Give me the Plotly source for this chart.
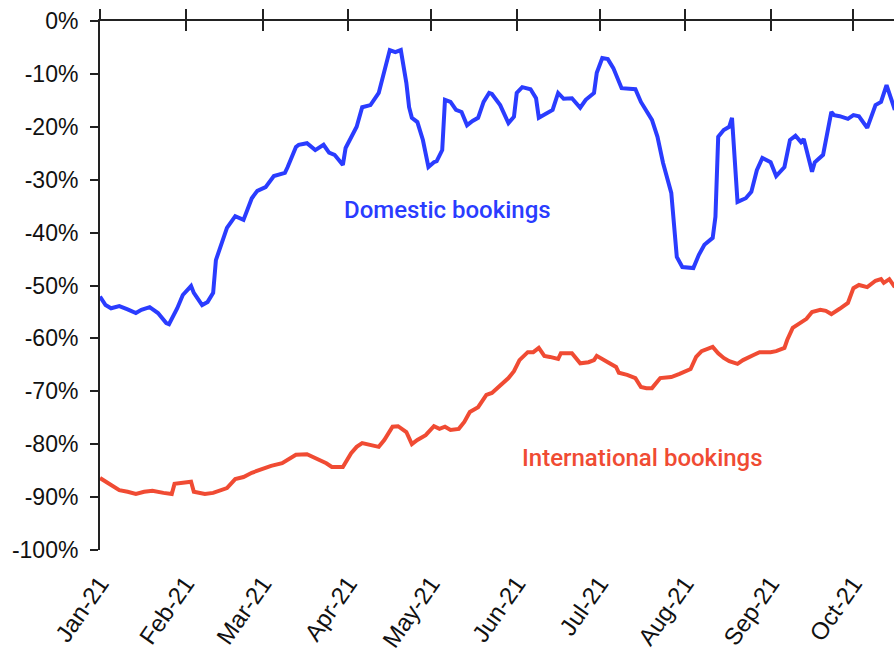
import pandas as pd
import plotly.graph_objects as go

# ---- data ----
month_starts = ["2021-01-01", "2021-02-01", "2021-03-01", "2021-04-01", "2021-05-01",
                "2021-06-01", "2021-07-01", "2021-08-01", "2021-09-01", "2021-10-01"]
month_labels = ["Jan-21", "Feb-21", "Mar-21", "Apr-21", "May-21",
                "Jun-21", "Jul-21", "Aug-21", "Sep-21", "Oct-21"]
y_ticks = [0, -10, -20, -30, -40, -50, -60, -70, -80, -90, -100]
y_labels = ["0%", "-10%", "-20%", "-30%", "-40%", "-50%", "-60%", "-70%", "-80%", "-90%", "-100%"]

# day offsets from 1 Jan 2021 and % change, domestic bookings
dom_day = [0, 2, 4, 7, 10, 13, 15, 18, 21, 24, 25, 28, 30, 33, 34, 37, 39, 41, 42, 45,
           46, 49, 52, 55, 57, 60, 63, 67, 68, 71, 72, 75, 78, 81, 83, 85, 88, 89, 91, 93,
           95, 98, 101, 103, 105, 107, 109, 111, 112, 113, 115, 117, 118, 119, 121, 122, 124, 125, 127, 129,
           131, 133, 135, 137, 139, 141, 142, 145, 148, 150, 151, 153, 156, 158, 159, 162, 164, 166, 168, 171,
           174, 176, 179, 180, 182, 184, 186, 189, 192, 194, 196, 200, 202, 204, 207, 208, 209, 211, 215, 217,
           219, 222, 223, 224, 226, 228, 229, 231, 234, 236, 238, 240, 243, 245, 248, 250, 252, 254, 255, 258,
           259, 262, 265, 266, 268, 271, 273, 275, 276, 278, 281, 283, 285, 288]
dom_val = [-52.1, -53.7, -54.3, -53.9, -54.5, -55.2, -54.6, -54.1, -55.2, -57.1, -57.3, -54.3, -51.8, -50.1, -51.4, -53.7, -53.1, -51.4, -45.2, -40.6,
           -39.1, -36.9, -37.6, -33.5, -32.1, -31.4, -29.3, -28.7, -27.6, -23.8, -23.4, -23.1, -24.4, -23.4, -24.9, -25.3, -27.2, -24.0, -21.9, -20.0,
           -16.3, -15.9, -13.6, -9.3, -5.5, -5.9, -5.5, -11.7, -16.3, -18.3, -19.1, -22.5, -25.0, -27.6, -26.7, -26.5, -24.4, -14.9, -15.3, -16.8,
           -17.2, -19.7, -18.9, -18.3, -15.3, -13.6, -13.8, -15.9, -19.3, -18.1, -13.6, -12.5, -12.9, -14.6, -18.3, -17.4, -16.8, -13.6, -14.7, -14.6,
           -16.4, -14.9, -13.6, -9.8, -7.0, -7.2, -8.9, -12.7, -12.9, -12.9, -15.3, -18.7, -21.9, -26.8, -32.5, -38.2, -44.6, -46.5, -46.7, -44.2,
           -42.3, -41.0, -37.0, -21.9, -20.6, -20.0, -18.3, -34.2, -33.5, -32.3, -28.2, -25.9, -26.7, -29.3, -27.6, -22.5, -21.7, -22.9, -22.3, -28.5,
           -26.7, -25.3, -17.2, -17.8, -18.0, -18.5, -17.8, -18.0, -18.7, -20.2, -15.9, -15.3, -12.1, -16.8]

# day offsets from 1 Jan 2021 and % change, international bookings
int_day = [0, 4, 7, 10, 13, 16, 19, 23, 26, 27, 30, 33, 34, 38, 41, 44, 46, 49, 52, 55,
           59, 62, 66, 69, 71, 75, 78, 82, 84, 88, 91, 93, 95, 99, 101, 103, 106, 108, 111, 113,
           115, 118, 121, 123, 125, 127, 130, 132, 134, 137, 140, 142, 145, 148, 150, 152, 155, 157, 159, 161,
           163, 166, 167, 171, 174, 177, 179, 180, 184, 187, 188, 191, 194, 196, 198, 200, 203, 207, 210, 214,
           216, 218, 222, 224, 226, 228, 231, 233, 237, 239, 243, 245, 248, 249, 251, 254, 256, 258, 261, 263,
           265, 268, 271, 273, 275, 278, 281, 283, 284, 286, 288]
int_val = [-86.4, -87.7, -88.7, -89.0, -89.4, -89.0, -88.8, -89.2, -89.4, -87.5, -87.3, -87.1, -89.0, -89.4, -89.2, -88.7, -88.3, -86.6, -86.2, -85.4,
           -84.7, -84.1, -83.6, -82.6, -82.0, -81.9, -82.6, -83.6, -84.3, -84.3, -81.7, -80.5, -79.8, -80.2, -80.5, -79.2, -76.7, -76.6, -77.7, -80.0,
           -79.2, -78.3, -76.6, -77.1, -76.7, -77.3, -77.1, -75.8, -73.9, -73.0, -70.7, -70.3, -68.8, -67.5, -66.2, -64.1, -62.6, -62.6, -61.8, -63.3,
           -63.5, -63.9, -62.8, -62.8, -64.7, -64.5, -64.1, -63.3, -64.5, -65.4, -66.5, -66.9, -67.5, -69.2, -69.4, -69.4, -67.5, -67.3, -66.7, -65.8,
           -63.5, -62.4, -61.6, -62.8, -63.7, -64.3, -64.8, -64.1, -63.1, -62.6, -62.6, -62.4, -61.8, -60.3, -58.0, -57.1, -56.3, -55.0, -54.6, -54.8,
           -55.4, -54.4, -53.3, -50.5, -49.9, -50.3, -49.1, -48.8, -49.5, -48.8, -50.3]

dom_label = "Domestic bookings"
int_label = "International bookings"

BLUE = "#2a3cff"
RED = "#f04b33"
AXIS = "#222222"
YFONT = dict(family="Liberation Sans, Arial, sans-serif", size=23, color="#111111")
XFONT = dict(family="Liberation Sans, Arial, sans-serif", size=24, color="#111111")

start = pd.Timestamp("2021-01-01")
dom_x = [start + pd.Timedelta(days=d) for d in dom_day]
int_x = [start + pd.Timedelta(days=d) for d in int_day]
x_end = start + pd.Timedelta(days=287.7)

fig = go.Figure()
fig.add_trace(go.Scatter(x=dom_x, y=dom_val, mode="lines", name=dom_label,
                         line=dict(color=BLUE, width=4), showlegend=False))
fig.add_trace(go.Scatter(x=int_x, y=int_val, mode="lines", name=int_label,
                         line=dict(color=RED, width=4), showlegend=False))
# carriers for the top axis (line + crossing ticks)
for ax in ("x2", "x3"):
    fig.add_trace(go.Scatter(x=month_starts, y=[None] * len(month_starts), xaxis=ax, yaxis="y",
                             mode="lines", showlegend=False, hoverinfo="skip"))

fig.add_annotation(x=start + pd.Timedelta(days=126), y=-35.7, text=dom_label, showarrow=False,
                   font=dict(family="Roboto, sans-serif", size=24, color=BLUE, weight=500))
fig.add_annotation(x=start + pd.Timedelta(days=196.7), y=-82.6, text=int_label, showarrow=False,
                   font=dict(family="Roboto, sans-serif", size=24, color=RED, weight=500))

common_x = dict(type="date", range=[start, x_end], tickvals=month_starts, showgrid=False,
                zeroline=False, automargin=False)

fig.update_layout(
    width=894, height=655,
    margin=dict(l=100, r=0, t=21, b=105, autoexpand=False),
    paper_bgcolor="white", plot_bgcolor="white",
    showlegend=False,
    xaxis=dict(**common_x, ticktext=month_labels, tickangle=-55, side="bottom",
               showline=False, ticks="", tickfont=XFONT, ticklabelstandoff=14),
    xaxis2=dict(**common_x, overlaying="x", side="top", anchor="y", showline=True,
                linecolor=AXIS, linewidth=2, ticks="outside", ticklen=10, tickwidth=2,
                tickcolor=AXIS, showticklabels=False),
    xaxis3=dict(**common_x, overlaying="x", side="top", anchor="y", showline=False,
                ticks="inside", ticklen=10, tickwidth=2, tickcolor=AXIS, showticklabels=False),
    yaxis=dict(range=[-100, 0], tickvals=y_ticks, ticktext=y_labels, showgrid=False,
               zeroline=False, showline=True, linecolor=AXIS, linewidth=2,
               ticks="outside", ticklen=8, tickwidth=2, tickcolor=AXIS,
               tickfont=YFONT, ticklabelstandoff=7, automargin=False),
)

fig.write_html("out.html", config={"displayModeBar": False},
               post_script="document.body.style.margin='0';document.body.style.overflow='hidden';")
